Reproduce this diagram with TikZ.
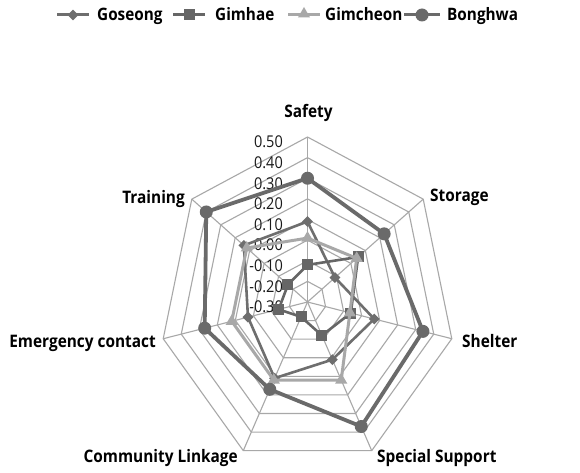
\documentclass[tikz,border=0pt]{standalone}
\usepackage{fontspec}
\setmainfont{Open Sans}
\usetikzlibrary{shapes.geometric}
\definecolor{gridc}{HTML}{A8A8A8}
\definecolor{gosc}{HTML}{6E6E6E}
\definecolor{gimc}{HTML}{666666}
\definecolor{gchc}{HTML}{A8A8A8}
\definecolor{bonc}{HTML}{6A6A6A}
\tikzset{
  gridline/.style={draw=gridc, line width=1.1pt},
  gosline/.style={draw=gosc, line width=2.6pt, line join=round},
  gimline/.style={draw=gimc, line width=2.6pt, line join=round},
  gchline/.style={draw=gchc, line width=3pt, line join=round},
  bonline/.style={draw=bonc, line width=3.8pt, line join=round},
  gosmark/.style={diamond, fill=gosc, inner sep=0pt, minimum size=11pt},
  gimmark/.style={rectangle, fill=gimc, inner sep=0pt, minimum size=11pt},
  gchmark/.style={regular polygon, regular polygon sides=3, fill=gchc, inner sep=0pt, minimum size=14pt},
  bonmark/.style={circle, fill=bonc, inner sep=0pt, minimum size=13pt},
  ticklab/.style={inner sep=0pt, anchor=east, yscale=1.12, font=\fontsize{14.5}{18}\selectfont, text=black!90},
  axlab/.style={inner sep=0pt, yscale=1.12, font=\fontsize{15.4}{18}\selectfont\bfseries, text=black},
  leglab/.style={inner sep=0pt, anchor=base west, yscale=1.12, font=\fontsize{15.3}{18}\selectfont\bfseries, text=black}
}
\begin{document}
\begin{tikzpicture}[x=1pt,y=1pt]
\useasboundingbox (0,0) rectangle (580,472);
\fill[white] (0,0) rectangle (580,472);
% chart
\begin{scope}[shift={(307.5,170)}, x=148pt, y=165pt]
  \coordinate (c) at (0,0);
  \foreach \k in {1,...,8} {
    \draw[gridline] (90:\k/8) \foreach \i in {1,...,6} { -- ({90-\i*360/7}:\k/8) } -- cycle;
  }
  \foreach \i in {0,...,6} {
    \coordinate (ax\i) at ({90-\i*360/7}:1);
    \draw[gridline] (c) -- (ax\i);
  }
  \foreach \t [count=\k from 0] in {-0.30,-0.20,-0.10,0.00,0.10,0.20,0.30,0.40,0.50} {
    \node[ticklab] (tk\k) at (-0.1655,{\k/8-0.0303}) {\t};
  }
  % Goseong
  \foreach \v [count=\i from 0] in {0.09,-0.11,0.07,0.01,0.11,0.03,0.14} {
    \coordinate (gos\i) at ({90-\i*360/7}:{(\v+0.3)/0.8});
  }
  \draw[gosline] (gos0) -- (gos1) -- (gos2) -- (gos3) -- (gos4) -- (gos5) -- (gos6) -- cycle;
  \foreach \i in {0,...,6} { \node[gosmark] (gosm\i) at (gos\i) {}; }
  % Gimhae
  \foreach \v [count=\i from 0] in {-0.12,0.05,-0.06,-0.12,-0.22,-0.14,-0.165} {
    \coordinate (gim\i) at ({90-\i*360/7}:{(\v+0.3)/0.8});
  }
  \draw[gimline] (gim0) -- (gim1) -- (gim2) -- (gim3) -- (gim4) -- (gim5) -- (gim6) -- cycle;
  \foreach \i in {0,...,6} { \node[gimmark] (gimm\i) at (gim\i) {}; }
  % Gimcheon
  \foreach \v [count=\i from 0] in {0.01,0.04,-0.065,0.12,0.12,0.12,0.12} {
    \coordinate (gch\i) at ({90-\i*360/7}:{(\v+0.3)/0.8});
  }
  \draw[gchline] (gch0) -- (gch1) -- (gch2) -- (gch3) -- (gch4) -- (gch5) -- (gch6) -- cycle;
  \foreach \i in {0,...,6} { \node[gchmark] (gchm\i) at (gch\i) {}; }
  % Bonghwa
  \foreach \v [count=\i from 0] in {0.30,0.23,0.34,0.37,0.17,0.27,0.40} {
    \coordinate (bon\i) at ({90-\i*360/7}:{(\v+0.3)/0.8});
  }
  \draw[bonline] (bon0) -- (bon1) -- (bon2) -- (bon3) -- (bon4) -- (bon5) -- (bon6) -- cycle;
  \foreach \i in {0,...,6} { \node[bonmark] (bonm\i) at (bon\i) {}; }
\end{scope}
% axis labels
\node[axlab, anchor=base] (lsafety) at (308.5,354) {Safety};
\node[axlab, anchor=base west] (lstorage) at (430,271) {Storage};
\node[axlab, anchor=base west] (lshelter) at (462,125) {Shelter};
\node[axlab, anchor=base west] (lspecial) at (377,10) {Special Support};
\node[axlab, anchor=base east] (lcomm) at (238,10) {Community Linkage};
\node[axlab, anchor=base east] (lemerg) at (156,125) {Emergency contact};
\node[axlab, anchor=base east] (ltrain) at (185,269) {Training};
% legend
\coordinate (lg1a) at (57,457); \coordinate (lg1b) at (89,457);
\draw[gosline, line width=3pt] (lg1a) -- (lg1b);
\node[gosmark] (lg1m) at (73,457) {};
\node[leglab] (lg1t) at (97,451) {Goseong};
\coordinate (lg2a) at (173,457); \coordinate (lg2b) at (205,457);
\draw[gimline, line width=3pt] (lg2a) -- (lg2b);
\node[gimmark] (lg2m) at (189,457) {};
\node[leglab] (lg2t) at (215,451) {Gimhae};
\coordinate (lg3a) at (288,457); \coordinate (lg3b) at (320,457);
\draw[gchline, line width=3pt] (lg3a) -- (lg3b);
\node[gchmark] (lg3m) at (304,458) {};
\node[leglab] (lg3t) at (325,451) {Gimcheon};
\coordinate (lg4a) at (404,457); \coordinate (lg4b) at (440,457);
\draw[bonline, line width=3pt] (lg4a) -- (lg4b);
\node[bonmark] (lg4m) at (422,457) {};
\node[leglab] (lg4t) at (447,451) {Bonghwa};
\end{tikzpicture}
\end{document}
